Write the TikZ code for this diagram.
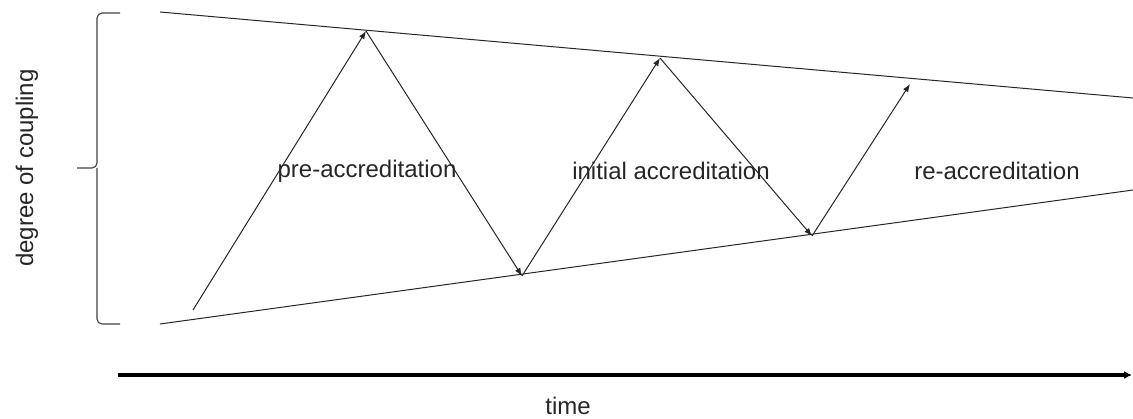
\documentclass[tikz,border=0pt]{standalone}
\usepackage{fontspec}
\setmainfont{Liberation Sans}
\usetikzlibrary{arrows.meta}
\begin{document}
\begin{tikzpicture}[x=1pt,y=-1pt,
  edge/.style={draw=black!85,line width=1pt},
  zig/.style={edge,-{Latex[length=8pt,width=6pt]}},
  lbl/.style={font=\fontsize{24}{28}\selectfont,text=black!85,inner sep=0pt},
  timeaxis/.style={draw=black,line width=3.4pt,-{Latex[length=8pt,width=8pt]}},
  bracestyle/.style={draw=black!75,line width=1.1pt,rounded corners=5pt}]
\useasboundingbox (0,0) rectangle (1133,419);
% boundary lines
\coordinate (tl) at (160,12);
\coordinate (tr) at (1133,98);
\coordinate (bl) at (160,324);
\coordinate (br) at (1133,190);
\draw[edge] (tl) -- (tr);
\draw[edge] (bl) -- (br);
% zigzag points
\coordinate (p0) at (193,310);
\coordinate (p1) at (366,31);
\coordinate (p2) at (522,276);
\coordinate (p3) at (660,58);
\coordinate (p4) at (812,236);
\coordinate (p5) at (910,84);
\draw[zig] (p0) -- (p1);
\draw[zig] (p1) -- (p2);
\draw[zig] (p2) -- (p3);
\draw[zig] (p3) -- (p4);
\draw[zig] (p4) -- (p5);
% labels
\node[lbl] (pre) at (367,171) {pre-accreditation};
\node[lbl] (init) at (671,171) {initial accreditation};
\node[lbl] (re) at (997,171) {re-accreditation};
% brace
\coordinate (bt) at (120,13);
\coordinate (bb) at (120,324);
\coordinate (tip) at (77,168);
\draw[bracestyle] (bt) -- (97,13) -- (97,168) -- (tip);
\draw[bracestyle] (bb) -- (97,324) -- (97,168);
\node[lbl,rotate=90] (deg) at (27,168) {degree of coupling};
% time axis
\coordinate (t0) at (118,375);
\coordinate (t1) at (1132,375);
\draw[timeaxis] (t0) -- (t1);
\node[lbl] (time) at (568,406) {time};
\end{tikzpicture}
\end{document}
